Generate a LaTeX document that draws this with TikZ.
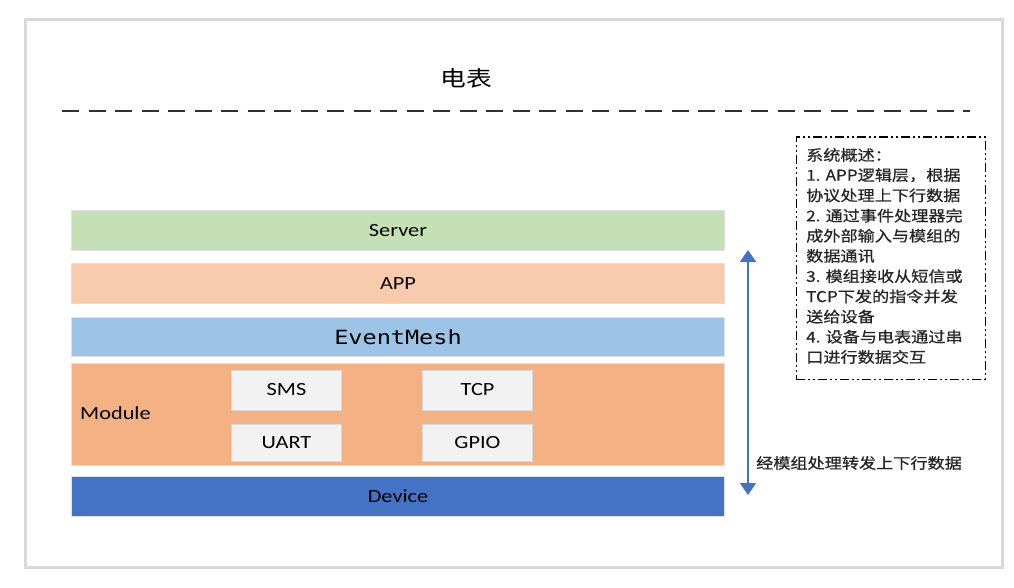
\documentclass[tikz,border=0pt]{standalone}
\usepackage{fontspec}
\setmainfont{Carlito}[FakeStretch=1.2]
\newfontfamily\cjk{Noto Sans CJK SC}[FakeStretch=1.2]
\newfontfamily\cjkb{Noto Sans CJK SC}[FakeStretch=1.15,FakeBold=0.6]
\newfontfamily\monof{DejaVu Sans Mono}[FakeStretch=1.2]
\usetikzlibrary{arrows.meta}
\definecolor{srvgreen}{HTML}{C5E0B4}
\definecolor{apppeach}{HTML}{F8CBAD}
\definecolor{evblue}{HTML}{9DC3E6}
\definecolor{modorange}{HTML}{F4B183}
\definecolor{devblue}{HTML}{4472C4}
\definecolor{subgray}{HTML}{F2F2F2}
\definecolor{framegray}{HTML}{D9D9D9}
\definecolor{dashgray}{HTML}{303030}
\tikzset{
  layer/.style={draw=white!88!black, line width=1pt, minimum width=653pt, anchor=north west, inner sep=0pt},
  sub/.style={draw=white!85!black, line width=1pt, fill=subgray, minimum width=110pt, anchor=north west, inner sep=0pt,
    font=\fontsize{18.6}{22}\selectfont},
  lbl/.style={font=\fontsize{18.6}{22}\selectfont, text=black},
  cjktext/.style={font=\cjkb\fontsize{14.9}{20}\selectfont, inner sep=0pt, text=black!85},
}
\begin{document}
\begin{tikzpicture}[x=1pt,y=-1pt]
\useasboundingbox (0,0) rectangle (1014,588);
\fill[white] (0,0) rectangle (1014,588);
% outer frame
\draw[framegray, line width=3pt] (25,20) rectangle (1002,567);
% title
\node[font=\cjk\fontsize{21.5}{24}\selectfont] (title) at (466,78) {电表};
\coordinate (dl) at (62,111);
\coordinate (dr) at (970,111);
\draw[dashgray, line width=2pt, dash pattern=on 17pt off 9.5pt] (dl) -- (dr);
% layers
\node[layer, fill=srvgreen, minimum height=40pt] (server) at (71,210) {};
\node[lbl] at (server.center) {Server};
\node[layer, fill=apppeach, minimum height=40pt] (app) at (71,263) {};
\node[lbl] at (app.center) {APP};
\node[layer, fill=evblue, minimum height=39pt] (ev) at (71,317) {};
\node[font=\monof\fontsize{19.6}{22}\selectfont] at (ev.center) {EventMesh};
\node[layer, fill=modorange, minimum height=102pt] (module) at (71,363) {};
\node[lbl, anchor=west, inner sep=0pt] (modlbl) at (80,413) {Module};
\node[layer, fill=devblue, minimum height=40pt] (device) at (71,475.5) {};
\node[lbl] at (device.center) {Device};
% sub boxes
\node[sub, minimum height=40pt] (sms) at (231,369.5) {SMS};
\node[sub, minimum height=40pt] (tcp) at (422,369.5) {TCP};
\node[sub, minimum height=37pt] (uart) at (231,424) {UART};
\node[sub, minimum height=37pt] (gpio) at (422,424) {GPIO};
% arrow
\coordinate (atop) at (748,250);
\coordinate (abot) at (748,495);
\draw[devblue, line width=2pt, {Triangle[width=16pt,length=12pt]}-{Triangle[width=16pt,length=12pt]}] (atop) -- (abot);
\node[cjktext, anchor=west] (flow) at (756,463) {经模组处理转发上下行数据};
% summary box
\node[draw=black, line width=1.5pt, dash pattern=on 9pt off 3pt on 2pt off 3pt on 2pt off 3pt, minimum width=189pt, minimum height=242pt, anchor=north west, inner sep=0pt] (summary) at (795.5,136.5) {};
\foreach \t [count=\i] in {系统概述：,1. APP逻辑层，根据,协议处理上下行数据,2. 通过事件处理器完,成外部输入与模组的,数据通讯,3. 模组接收从短信或,TCP下发的指令并发,送给设备,4. 设备与电表通过串,口进行数据交互}{
  \node[cjktext, anchor=west] (s\i) at (806,{155+(\i-1)*20.2}) {\t};
}
\end{tikzpicture}
\end{document}
